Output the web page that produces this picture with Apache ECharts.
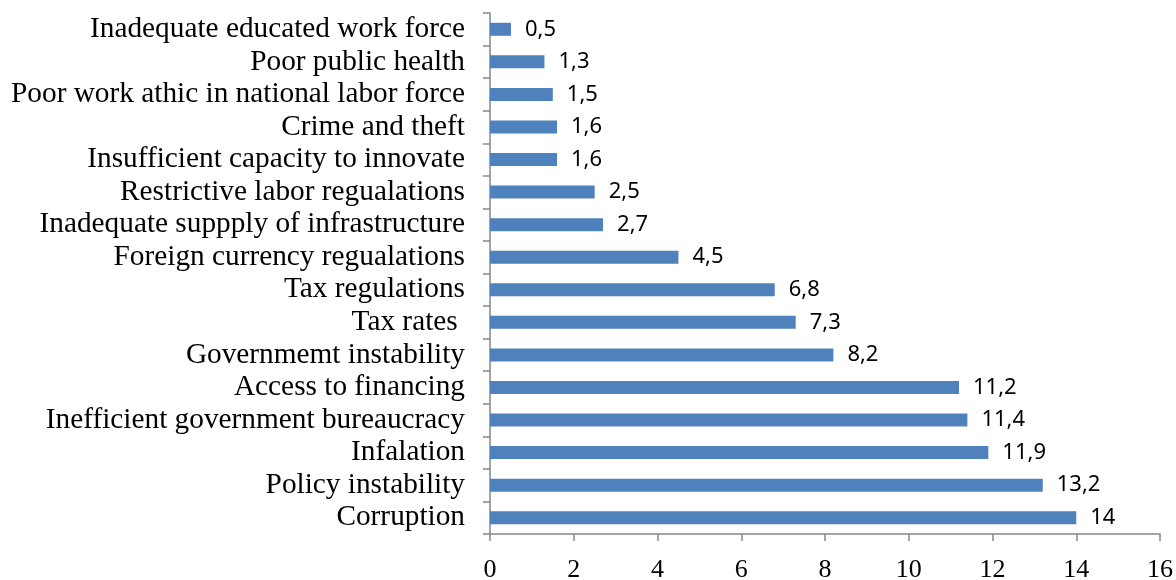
<!DOCTYPE html>
<html>
<head>
<meta charset="utf-8">
<script src="https://cdn.jsdelivr.net/npm/echarts@6/dist/echarts.min.js"></script>
<style>
  html, body { margin: 0; padding: 0; background: #fff; }
  #chart { width: 1176px; height: 580px; }
</style>
</head>
<body>
<div id="chart"></div>
<script>
// categories, bottom to top (as ECharts draws a category y axis)
const categories = [
  'Corruption',
  'Policy instability',
  'Infalation',
  'Inefficient government bureaucracy',
  'Access to financing',
  'Governmemt instability',
  'Tax rates ',
  'Tax regulations',
  'Foreign currency regualations',
  'Inadequate suppply of infrastructure',
  'Restrictive labor regualations',
  'Insufficient capacity to innovate',
  'Crime and theft',
  'Poor work athic in national labor force',
  'Poor public health',
  'Inadequate educated work force'
];
const values = [14, 13.2, 11.9, 11.4, 11.2, 8.2, 7.3, 6.8, 4.5, 2.7, 2.5, 1.6, 1.6, 1.5, 1.3, 0.5];

const chart = echarts.init(document.getElementById('chart'));

const axisGray = '#868686';

chart.setOption({
  animation: false,
  grid: { left: 490, right: 16, top: 13, bottom: 46, outerBoundsMode: 'none' },
  xAxis: {
    type: 'value',
    min: 0,
    max: 16,
    interval: 2,
    splitLine: { show: false },
    axisLine: { show: true, lineStyle: { color: axisGray, width: 1.5 } },
    axisTick: { show: true, inside: false, length: 7, lineStyle: { color: axisGray, width: 1.5 } },
    axisLabel: {
      color: '#000',
      fontFamily: 'Liberation Serif',
      fontSize: 26,
      margin: 23
    }
  },
  yAxis: {
    type: 'category',
    data: categories,
    axisLine: { show: true, lineStyle: { color: axisGray, width: 1.5 } },
    axisTick: { show: true, inside: false, length: 7, lineStyle: { color: axisGray, width: 1.5 } },
    axisLabel: {
      color: '#000',
      fontFamily: 'Liberation Serif',
      fontSize: 29.3,
      margin: 25,
      interval: 0,
      hideOverlap: false
    }
  },
  series: [{
    type: 'bar',
    data: values,
    barWidth: 13,
    itemStyle: { color: '#4F81BD' },
    label: {
      show: true,
      position: 'right',
      distance: 14,
      color: '#000',
      fontFamily: 'Noto Sans',
      fontSize: 22,
      formatter: p => String(p.value).replace('.', ',')
    }
  }]
});
</script>
</body>
</html>
